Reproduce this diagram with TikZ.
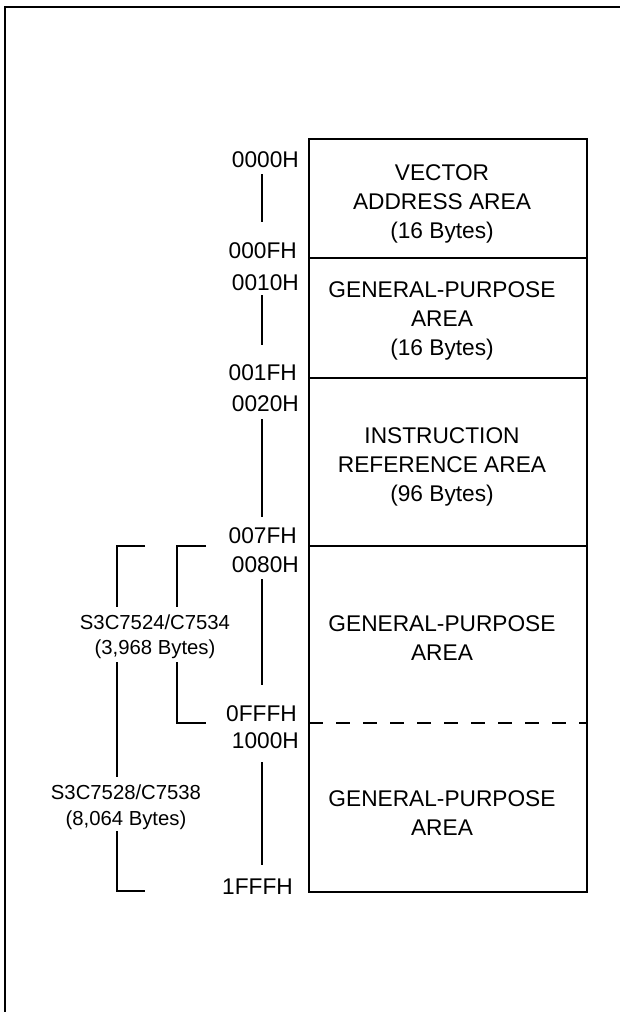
\documentclass[tikz,border=0pt]{standalone}
\usepackage{fontspec}
\setmainfont{Liberation Sans}
\usetikzlibrary{calc}
\begin{document}
\begin{tikzpicture}[x=1pt,y=-1pt,
  frame/.style={line width=2.2pt},
  memline/.style={line width=2pt},
  addrline/.style={line width=2pt},
  bracket/.style={line width=2pt},
  dashdiv/.style={line width=2pt, dash pattern=on 14pt off 13pt},
  addr/.style={anchor=base east, inner sep=0pt, font=\fontsize{22.7}{29}\selectfont},
  area/.style={align=center, inner sep=0pt, font=\fontsize{22.7}{29}\selectfont},
  side/.style={align=center, inner sep=0pt, font=\fontsize{20.3}{25.5}\selectfont},
]
\useasboundingbox (0,0) rectangle (620,1012);
% outer frame (top and left edges only)
\draw[frame] (5.3,1013) -- (5.3,6.7) -- (621,6.7);

% memory map box
\draw[memline] (309,139) rectangle (587,892);
\draw[memline] (309,258) -- (587,258);
\draw[memline] (309,378) -- (587,378);
\draw[memline] (309,546) -- (587,546);
\draw[dashdiv] (309,723) -- (587,723);

% area texts
\node[area] (a1) at (442,203.5) {VECTOR\\ADDRESS AREA\\(16 Bytes)};
\node[area] (a2) at (442,321) {GENERAL-PURPOSE\\AREA\\(16 Bytes)};
\node[area] (a3) at (442,466.5) {INSTRUCTION\\REFERENCE AREA\\(96 Bytes)};
\node[area] (a4) at (442,638) {GENERAL-PURPOSE\\AREA};
\node[area] (a5) at (442,813.5) {GENERAL-PURPOSE\\AREA};

% address labels
\node[addr] (l0000) at (299,167) {0000H};
\node[addr] (l000F) at (297,258) {000FH};
\node[addr] (l0010) at (299,290) {0010H};
\node[addr] (l001F) at (297,380) {001FH};
\node[addr] (l0020) at (299,411) {0020H};
\node[addr] (l007F) at (297,543) {007FH};
\node[addr] (l0080) at (299,572) {0080H};
\node[addr] (l0FFF) at (297,721) {0FFFH};
\node[addr] (l1000) at (299,748) {1000H};
\node[addr] (l1FFF) at (293,894) {1FFFH};

% address range lines
\coordinate (rx) at (262,0);
\draw[addrline] ($(l0000.south -| rx)+(0,7)$) -- ($(l000F.north -| rx)+(0,-20)$);
\draw[addrline] ($(l0010.south -| rx)+(0,5)$) -- ($(l001F.north -| rx)+(0,-19)$);
\draw[addrline] ($(l0020.south -| rx)+(0,8)$) -- ($(l007F.north -| rx)+(0,-10)$);
\draw[addrline] ($(l0080.south -| rx)+(0,7)$) -- ($(l0FFF.north -| rx)+(0,-20)$);
\draw[addrline] ($(l1000.south -| rx)+(0,14)$) -- ($(l1FFF.north -| rx)+(0,-13)$);

% size labels
\node[side] (s24) at (155,636.7) {S3C7524/C7534\\(3,968 Bytes)};
\node[side] (s28) at (126,807) {S3C7528/C7538\\(8,064 Bytes)};

% inner bracket
\coordinate (ibt) at (206,546);
\coordinate (ibc1) at (177,546);
\coordinate (ibc2) at (177,723);
\coordinate (ibb) at (206,723);
\draw[bracket] (ibt) -- (ibc1) -- ($(s24.north -| ibc1)+(0,-7)$);
\draw[bracket] ($(s24.south -| ibc1)+(0,3)$) -- (ibc2) -- (ibb);

% outer bracket
\coordinate (obt) at (145,546);
\coordinate (obc1) at (117,546);
\coordinate (obc2) at (117,891);
\coordinate (obb) at (145,891);
\draw[bracket] (obt) -- (obc1) -- ($(s24.north -| obc1)+(0,-7)$);
\draw[bracket] ($(s24.south -| obc1)+(0,3)$) -- ($(s28.north -| obc1)+(0,-8)$);
\draw[bracket] ($(s28.south -| obc1)+(0,2)$) -- (obc2) -- (obb);
\end{tikzpicture}
\end{document}
